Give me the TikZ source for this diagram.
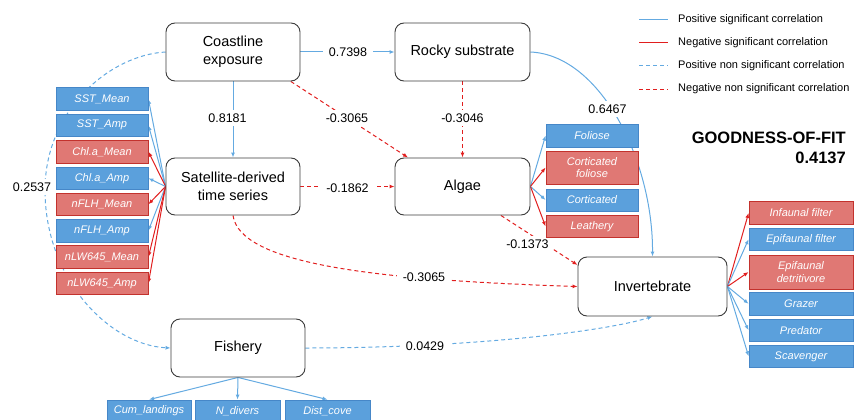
\documentclass[tikz,border=0pt]{standalone}
\usepackage{fontspec}
\setmainfont{Liberation Sans}
\usetikzlibrary{arrows.meta,backgrounds}
\definecolor{bfill}{RGB}{91,160,220}
\definecolor{bdraw}{RGB}{70,135,200}
\definecolor{rfill}{RGB}{224,120,116}
\definecolor{rdraw}{RGB}{195,50,45}
\definecolor{bline}{RGB}{100,170,225}
\definecolor{rline}{RGB}{225,30,30}
\definecolor{gbord}{RGB}{60,60,60}
\begin{document}
\begin{tikzpicture}[x=1pt,y=-1pt,
 mainbox/.style={draw=gbord,line width=0.9pt,rounded corners=9pt,fill=white,align=center,font=\fontsize{14.5}{17.5}\selectfont,inner sep=0pt},
 bluebox/.style={draw=bdraw,fill=bfill,line width=0.8pt,text=white,font=\fontsize{11}{12.7}\selectfont\itshape,align=center,inner sep=0pt,minimum width=92pt,minimum height=22.5pt},
 redbox/.style={bluebox,draw=rdraw,fill=rfill},
 plink/.style={draw=bline,line width=1pt,-{Latex[length=5pt,width=4pt]}},
 nlink/.style={draw=rline,line width=1pt,-{Latex[length=5pt,width=4pt]}},
 plinkd/.style={plink,dash pattern=on 4pt off 3pt},
 nlinkd/.style={nlink,dash pattern=on 4pt off 3pt},
 lab/.style={fill=white,inner xsep=6pt,inner ysep=4pt,font=\fontsize{12.5}{14}\selectfont},
 legtext/.style={anchor=west,font=\fontsize{11}{13}\selectfont,inner sep=0pt}
]
\useasboundingbox (0,0) rectangle (854,420);

% main boxes
\node[mainbox,minimum width=134pt,minimum height=58pt] (coast) at (233,52) {Coastline\\exposure};
\node[mainbox,minimum width=135pt,minimum height=58pt] (rock) at (462.5,52) {Rocky substrate};
\node[mainbox,minimum width=134pt,minimum height=57pt] (sat) at (233,186.5) {Satellite-derived\\time series};
\node[mainbox,minimum width=135pt,minimum height=57pt] (algae) at (462.5,186.5) {Algae};
\node[mainbox,minimum width=149pt,minimum height=59pt] (inv) at (652.5,286.5) {Invertebrate};
\node[mainbox,minimum width=134pt,minimum height=58pt] (fish) at (238,348) {Fishery};

% satellite variables
\node[bluebox] (s1) at (102,99) {SST\_Mean};
\node[bluebox] (s2) at (102,125.3) {SST\_Amp};
\node[redbox] (s3) at (102,151.7) {Chl.a\_Mean};
\node[bluebox] (s4) at (102,178.2) {Chl.a\_Amp};
\node[redbox] (s5) at (102,204.3) {nFLH\_Mean};
\node[bluebox] (s6) at (102,230.7) {nFLH\_Amp};
\node[redbox] (s7) at (102,257) {nLW645\_Mean};
\node[redbox] (s8) at (102,283.3) {nLW645\_Amp};

% algae variables
\node[bluebox,minimum height=23pt] (a1) at (592,135.5) {Foliose};
\node[redbox,minimum height=33pt] (a2) at (592,167.5) {Corticated\\foliose};
\node[bluebox,minimum height=22pt] (a3) at (592,200) {Corticated};
\node[redbox,minimum height=22pt] (a4) at (592,226.5) {Leathery};

% invertebrate variables
\node[redbox,minimum width=104pt] (i1) at (801,213) {Infaunal filter};
\node[bluebox,minimum width=104pt] (i2) at (801,239.2) {Epifaunal filter};
\node[redbox,minimum width=104pt,minimum height=34pt] (i3) at (801,272) {Epifaunal\\detritivore};
\node[bluebox,minimum width=104pt] (i4) at (801,303.8) {Grazer};
\node[bluebox,minimum width=104pt] (i5) at (801,330.3) {Predator};
\node[bluebox,minimum width=104pt] (i6) at (801,356.3) {Scavenger};

% fishery variables
\node[bluebox,minimum width=84pt,minimum height=22pt] (f1) at (149,411) {Cum\_landings};
\node[bluebox,minimum width=85pt,minimum height=22pt] (f2) at (237.5,411) {N\_divers};
\node[bluebox,minimum width=85pt,minimum height=22pt] (f3) at (327.5,411) {Dist\_cove};

\begin{scope}[on background layer]
\draw[plink] (coast.east) -- (rock.west);
\draw[plink] (coast.south) -- (sat.north);
\draw[nlinkd] (coast.-27) -- (algae.152);
\draw[nlinkd] (rock.south) -- (algae.north);
\draw[nlinkd] (sat.east) -- (algae.west);
\draw[plink] (rock.east) .. controls (600,55) and (653,160) .. (inv.north);
\draw[nlinkd] (algae.-37) -- (inv.164);
\draw[nlinkd] (sat.south) .. controls (240,265) and (380,280) .. (inv.west);
\draw[plinkd] (fish.east) .. controls (480,348) and (610,330) .. (inv.south);
\draw[plinkd] (coast.west) .. controls (110,55) and (45,110) .. (45,190) .. controls (45,280) and (110,345) .. (fish.west);
% fans
\draw[plink] (sat.west) -- (s1.east);
\draw[plink] (sat.west) -- (s2.east);
\draw[nlink] (sat.west) -- (s3.east);
\draw[plink] (sat.west) -- (s4.east);
\draw[nlink] (sat.west) -- (s5.east);
\draw[plink] (sat.west) -- (s6.east);
\draw[nlink] (sat.west) -- (s7.east);
\draw[nlink] (sat.west) -- (s8.east);
\draw[plink] (algae.east) -- (a1.west);
\draw[nlink] (algae.east) -- (a2.west);
\draw[plink] (algae.east) -- (a3.west);
\draw[nlink] (algae.east) -- (a4.west);
\draw[nlink] (inv.east) -- (i1.west);
\draw[plink] (inv.east) -- (i2.west);
\draw[nlink] (inv.east) -- (i3.west);
\draw[plink] (inv.east) -- (i4.west);
\draw[plink] (inv.east) -- (i5.west);
\draw[plink] (inv.east) -- (i6.west);
\draw[plink] (fish.south) -- (f1.north);
\draw[plink] (fish.south) -- (f2.north);
\draw[plink] (fish.south) -- (f3.north);
% labels
\node[lab] (l1) at (348,52) {0.7398};
\node[lab] (l2) at (227.5,118) {0.8181};
\node[lab] (l3) at (347,118) {-0.3065};
\node[lab] (l4) at (462.5,118) {-0.3046};
\node[lab] (l5) at (347.5,188) {-0.1862};
\node[lab] (l6) at (607.5,109) {0.6467};
\node[lab,inner xsep=3pt] (l7) at (527.5,244) {-0.1373};
\node[lab] (l8) at (424,277) {-0.3065};
\node[lab] (l9) at (425,346) {0.0429};
\node[lab,inner xsep=3pt] (l10) at (32,187) {0.2537};
\end{scope}

% legend
\coordinate (g1a) at (639,20); \coordinate (g1b) at (668,20);
\coordinate (g2a) at (639,43); \coordinate (g2b) at (668,43);
\coordinate (g3a) at (639,66); \coordinate (g3b) at (668,66);
\coordinate (g4a) at (639,89); \coordinate (g4b) at (668,89);
\draw[bline,line width=1pt] (g1a) -- (g1b);
\draw[rline,line width=1pt] (g2a) -- (g2b);
\draw[bline,line width=1pt,dash pattern=on 4pt off 3pt] (g3a) -- (g3b);
\draw[rline,line width=1pt,dash pattern=on 4pt off 3pt] (g4a) -- (g4b);
\node[legtext] (t1) at (678,20) {Positive significant correlation};
\node[legtext] (t2) at (678,43) {Negative significant correlation};
\node[legtext] (t3) at (678,66) {Positive non significant correlation};
\node[legtext] (t4) at (678,89) {Negative non significant correlation};

\node[anchor=east,align=right,inner sep=0pt,font=\bfseries\fontsize{16.5}{20}\selectfont] (gof) at (846,148) {GOODNESS-OF-FIT\\0.4137};
\end{tikzpicture}
\end{document}
